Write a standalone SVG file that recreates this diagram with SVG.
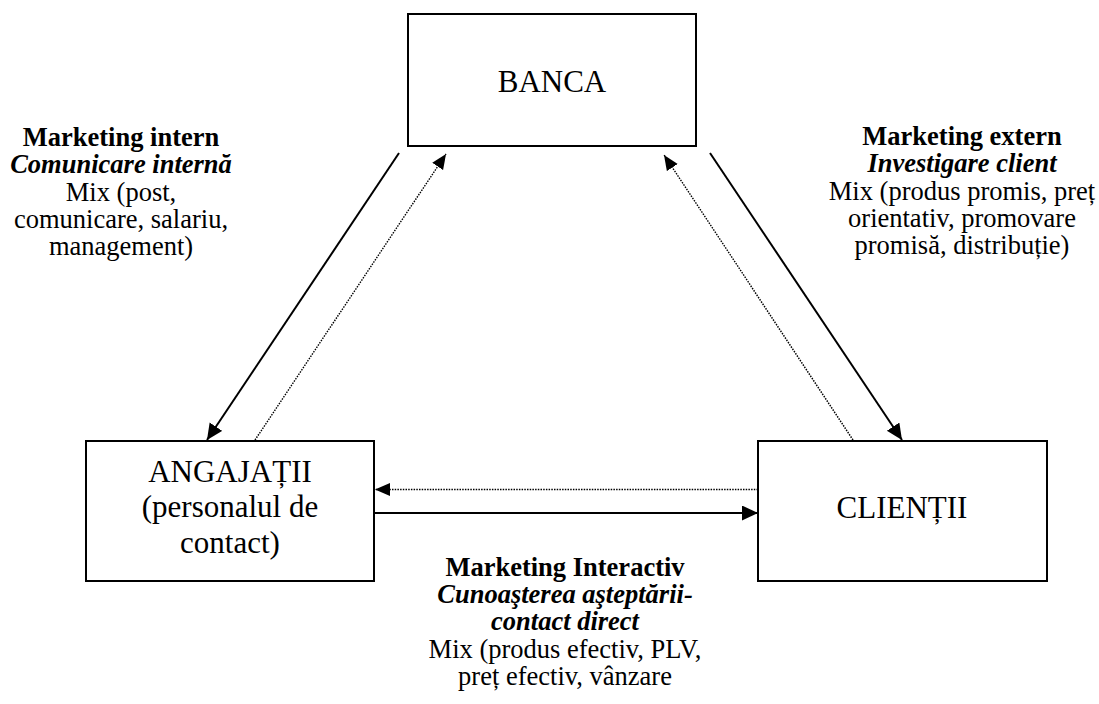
<svg xmlns="http://www.w3.org/2000/svg" width="1099" height="704" viewBox="0 0 1099 704">
<style>
.box{fill:#fff;stroke:#000;stroke-width:2}
.nt{font-family:"Liberation Serif","Times New Roman",serif;font-size:31px;fill:#000;text-anchor:middle}
.lb{font-family:"Liberation Serif","Times New Roman",serif;font-size:26.5px;fill:#000;text-anchor:middle}
.b{font-weight:bold}
.bi{font-weight:bold;font-style:italic}
.solid{stroke:#000;stroke-width:2;fill:none}
.dot{stroke:#000;stroke-width:1.4;fill:none;stroke-dasharray:1.5 1.2}
</style>
<defs>
<marker id="arS" markerUnits="userSpaceOnUse" markerWidth="17" markerHeight="16" refX="16" refY="7.5" orient="auto">
<path d="M0,0 L16,7.5 L0,15 z" fill="#000"/>
</marker>
<marker id="arD" markerUnits="userSpaceOnUse" markerWidth="16" markerHeight="14" refX="15" refY="6.5" orient="auto">
<path d="M0,0 L15,6.5 L0,13 z" fill="#000"/>
</marker>
</defs>
<rect width="1099" height="704" fill="#fff"/>
<g id="connectors">
<line class="solid" x1="399" y1="153" x2="207" y2="440" marker-end="url(#arS)"/>
<line class="dot" x1="255" y1="440" x2="446" y2="154" marker-end="url(#arD)"/>
<line class="solid" x1="710" y1="153" x2="902" y2="440" marker-end="url(#arS)"/>
<line class="dot" x1="853" y1="440" x2="664" y2="155" marker-end="url(#arD)"/>
<line class="dot" x1="758" y1="489.5" x2="375" y2="489.5" marker-end="url(#arD)"/>
<line class="solid" x1="374" y1="513" x2="758" y2="513" marker-end="url(#arS)"/>
</g>
<g id="node-banca">
<rect class="box" x="408" y="14" width="288" height="132"/>
<text class="nt" x="552" y="91.7">BANCA</text>
</g>
<g id="node-angajatii">
<rect class="box" x="86" y="441" width="288" height="140"/>
<text class="nt" x="230" y="481.7">ANGAJAȚII</text>
<text class="nt" x="230" y="517">(personalul de</text>
<text class="nt" x="230" y="552.7">contact)</text>
</g>
<g id="node-clientii">
<rect class="box" x="758" y="441" width="289" height="140"/>
<text class="nt" x="902" y="518.3">CLIENȚII</text>
</g>
<g id="label-intern">
<text class="lb b" x="121" y="146">Marketing intern</text>
<text class="lb bi" x="121" y="173.3">Comunicare internă</text>
<text class="lb" x="121" y="200.6">Mix (post, </text>
<text class="lb" x="121" y="227.9">comunicare, salariu,</text>
<text class="lb" x="121" y="255.2">management)</text>
</g>
<g id="label-extern">
<text class="lb b" x="962" y="145">Marketing extern</text>
<text class="lb bi" x="962" y="172.3">Investigare client</text>
<text class="lb" x="962" y="199.6">Mix (produs promis, preț</text>
<text class="lb" x="962" y="226.9">orientativ, promovare</text>
<text class="lb" x="962" y="254.2">promisă, distribuție)</text>
</g>
<g id="label-interactiv">
<text class="lb b" x="565" y="575.7">Marketing Interactiv</text>
<text class="lb bi" x="565" y="603">Cunoaşterea aşteptării-</text>
<text class="lb bi" x="565" y="630.3">contact direct</text>
<text class="lb" x="565" y="657.6">Mix (produs efectiv, PLV,</text>
<text class="lb" x="565" y="684.9">preț efectiv, vânzare</text>
</g>
</svg>
